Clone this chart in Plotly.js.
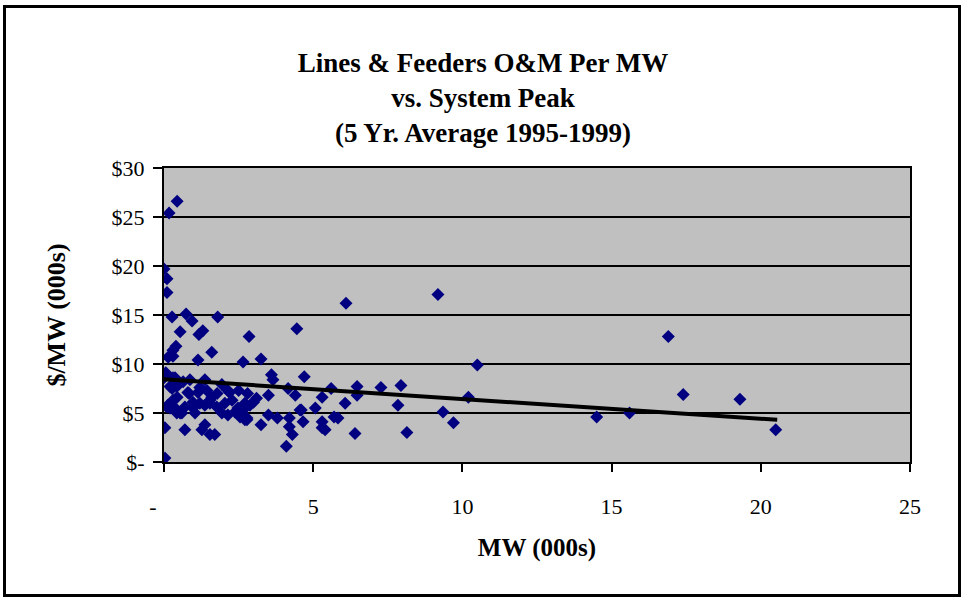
<!DOCTYPE html>
<html>
<head>
<meta charset="utf-8">
<script src="https://cdn.plot.ly/plotly-3.0.1.min.js"></script>
<style>
  html, body { margin: 0; padding: 0; background: #ffffff; }
  #wrap { position: relative; width: 966px; height: 602px; }
  #chart { width: 966px; height: 602px; }
  #frame { position: absolute; left: 3px; top: 5px; width: 952px; height: 586px;
           border: 3px solid #000; pointer-events: none; }
</style>
</head>
<body>
<div id="wrap">
  <div id="chart"></div>
  <div id="frame"></div>
</div>
<script>
// MW (000s) system peak
const peakMW = [
  0.44, 0.17, 0.00, 0.10, 0.10, 6.10, 9.18,
  0.27, 0.74, 0.94, 1.80, 0.54, 1.30, 1.17, 2.85, 4.45,
  0.40, 0.30, 1.60, 0.14, 0.30, 1.14, 2.65, 3.25, 10.50, 16.90,
  0.06, 0.00, 0.30, 0.43, 0.27, 0.64, 0.87, 1.37, 0.84, 1.14, 1.44, 1.60, 1.94, 2.20, 2.50,
  3.60, 3.65, 4.70, 4.16, 4.40, 3.50, 5.60, 5.30, 6.07, 6.47, 6.47, 7.27, 7.94, 7.84, 10.20, 17.40, 19.30,
  0.37, 0.20, 0.80, 1.20, 1.78, 2.14, 2.80, 0.44, 0.13, 0.37, 0.97, 1.54, 2.28, 2.71,
  0.10, 0.30, 0.20, 0.43, 0.60, 0.70, 0.97, 1.04, 1.20, 1.37, 1.54, 1.77, 1.94, 2.14, 2.04, 2.48,
  2.88, 3.10, 2.78, 3.50, 3.80, 4.20, 4.60, 5.07, 4.66, 5.30, 5.70, 5.83, 9.35, 14.50, 15.60,
  3.00, 2.65, 2.55, 2.78, 4.56, 0.54, 2.38, 2.71,
  0.03, 0.70, 1.27, 1.37, 1.54, 1.70, 3.25, 4.20, 4.30, 4.10, 5.30, 5.40, 6.40, 8.14, 9.70, 20.50, 0.03
];
// $/MW (000s) O&M per MW
const omPerMW = [
  26.6, 25.4, 19.7, 18.7, 17.3, 16.2, 17.1,
  14.8, 15.1, 14.4, 14.8, 13.3, 13.4, 13.0, 12.8, 13.6,
  11.8, 11.4, 11.2, 10.7, 10.8, 10.4, 10.2, 10.5, 9.9, 12.8,
  9.1, 8.6, 8.6, 7.7, 7.5, 8.2, 8.4, 8.4, 7.0, 7.1, 7.3, 6.6, 7.9, 7.1, 7.3,
  8.9, 8.4, 8.7, 7.5, 6.8, 6.8, 7.5, 6.6, 6.0, 7.7, 6.8, 7.6, 7.8, 5.8, 6.6, 6.9, 6.4,
  8.6, 7.7, 7.1, 7.6, 7.0, 7.3, 7.0, 6.6, 5.8, 5.5, 6.1, 6.0, 6.3, 6.0,
  5.6, 6.3, 5.5, 5.0, 5.0, 5.6, 5.5, 5.0, 6.0, 5.8, 6.3, 5.6, 5.0, 4.8, 6.0, 5.5,
  5.8, 6.5, 4.5, 4.8, 4.5, 4.5, 5.3, 5.5, 4.1, 4.1, 4.6, 4.5, 5.1, 4.6, 5.0,
  6.1, 5.3, 4.6, 4.3, 5.3, 5.0, 5.1, 4.3,
  3.5, 3.3, 3.3, 3.8, 2.8, 2.8, 3.8, 3.6, 2.8, 1.6, 3.5, 3.3, 2.9, 3.0, 4.0, 3.3, 0.4
];
// Linear trend endpoints
const trendX = [0, 20.55];
const trendY = [8.45, 4.3];

const yTickVals = [0, 5, 10, 15, 20, 25, 30];
const yTickText = ['$-', '$5', '$10', '$15', '$20', '$25', '$30'];
const xTickVals = [0, 5, 10, 15, 20, 25];
const xTickText = ['-\u00a0\u00a0\u00a0\u00a0', '5', '10', '15', '20', '25'];

const serif = 'Liberation Serif, Times New Roman, serif';

const data = [
  {
    type: 'scatter', mode: 'markers', x: peakMW, y: omPerMW,
    marker: { symbol: 'diamond', size: 10, color: '#000080', line: { width: 0 } },
    hoverinfo: 'x+y', showlegend: false
  },
  {
    type: 'scatter', mode: 'lines', x: trendX, y: trendY,
    line: { color: '#000000', width: 4 }, hoverinfo: 'skip', showlegend: false
  }
];

const layout = {
  width: 966, height: 602,
  margin: { l: 164, r: 56, t: 168, b: 140 },
  paper_bgcolor: '#ffffff',
  plot_bgcolor: '#c0c0c0',
  showlegend: false,
  font: { family: serif, color: '#000000', size: 22 },
  title: {
    text: '<b>Lines & Feeders O&M Per MW<br>vs. System Peak<br>(5 Yr. Average 1995-1999)</b>',
    font: { family: serif, size: 27, color: '#000000' },
    x: 0.5, xanchor: 'center', xref: 'container',
    y: 1 - 72 / 602, yanchor: 'middle', yref: 'container'
  },
  xaxis: {
    range: [0, 25], tickvals: xTickVals, ticktext: xTickText,
    ticks: 'outside', ticklen: 8, tickwidth: 2, tickcolor: '#000000',
    ticklabelstandoff: 16,
    showgrid: false, zeroline: false,
    showline: true, mirror: true, linecolor: '#000000', linewidth: 2,
    tickfont: { family: serif, size: 22, color: '#000000' },
    title: { text: '<b>MW (000s)</b>', font: { family: serif, size: 25, color: '#000000' }, standoff: 20 },
    fixedrange: true
  },
  yaxis: {
    range: [0, 30], tickvals: yTickVals, ticktext: yTickText,
    ticks: 'outside', ticklen: 9, tickwidth: 2, tickcolor: '#000000',
    ticklabelstandoff: 4,
    showgrid: true, gridcolor: '#000000', gridwidth: 2,
    zeroline: false,
    showline: true, mirror: true, linecolor: '#000000', linewidth: 2,
    tickfont: { family: serif, size: 22, color: '#000000' },
    title: { text: '<b>$/MW (000s)</b>', font: { family: serif, size: 26, color: '#000000' }, standoff: 38 },
    fixedrange: true
  }
};

Plotly.newPlot('chart', data, layout, { displayModeBar: false, staticPlot: true });
</script>
</body>
</html>
